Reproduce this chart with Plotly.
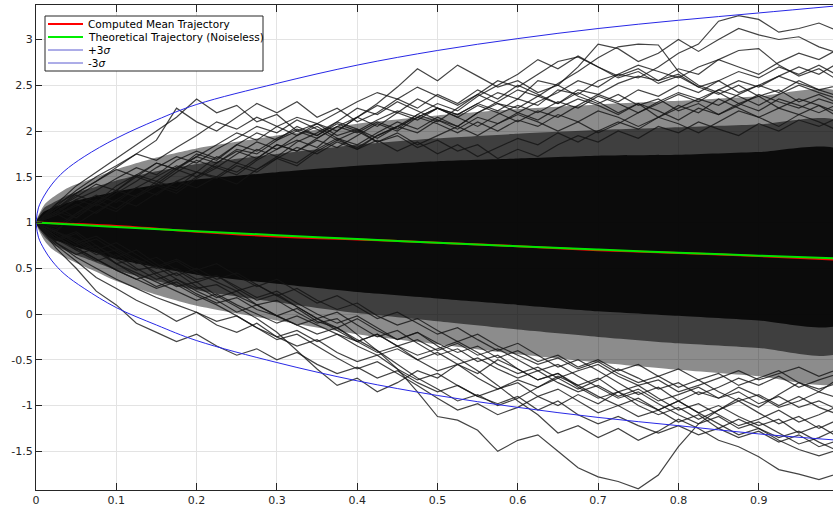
import numpy as np
import plotly.graph_objects as go

W, H = 833, 510
ML, MR, MT, MB = 36, 0, 5, 20

x_range = [0, 0.9925]
y_range = [-1.923, 3.377]
x_ticks = [0, 0.1, 0.2, 0.3, 0.4, 0.5, 0.6, 0.7, 0.8, 0.9]
x_tick_labels = ["0", "0.1", "0.2", "0.3", "0.4", "0.5", "0.6", "0.7", "0.8", "0.9"]
y_ticks = [-1.5, -1, -0.5, 0, 0.5, 1, 1.5, 2, 2.5, 3]
y_tick_labels = ["-1.5", "-1", "-0.5", "0", "0.5", "1", "1.5", "2", "2.5", "3"]

# mean / theoretical trajectories
t_curve = [0, 0.1, 0.2, 0.3, 0.4, 0.5, 0.6, 0.7, 0.8, 0.9, 1.0]
theoretical = [1.0, 0.951, 0.905, 0.861, 0.819, 0.779, 0.741, 0.705, 0.670, 0.638, 0.607]
computed_mean = [1.0, 0.962, 0.90, 0.848, 0.815, 0.78, 0.742, 0.697, 0.668, 0.634, 0.594]

# +/- 3 sigma envelopes
t_sigma = [0, 0.003, 0.01, 0.02, 0.035, 0.06, 0.1, 0.15, 0.2, 0.3, 0.4, 0.5, 0.6, 0.7, 0.8, 0.9, 1.0]
plus_3sigma = [1.0, 1.16, 1.29, 1.42, 1.56, 1.72, 1.92, 2.12, 2.29, 2.52, 2.72, 2.88, 3.01, 3.12, 3.21, 3.29, 3.37]
minus_3sigma = [1.0, 0.84, 0.71, 0.58, 0.44, 0.28, 0.07, -0.12, -0.29, -0.53, -0.73, -0.89, -1.02, -1.13, -1.22, -1.31, -1.38]

# density of the trajectory bundle: very dense core, dense and moderate zones
t_env = [0, 0.01, 0.02, 0.04, 0.07, 0.1, 0.15, 0.2, 0.3, 0.4, 0.5, 0.6, 0.7, 0.8, 0.9, 1.0]
core_upper = [1.0, 1.12, 1.16, 1.22, 1.28, 1.34, 1.41, 1.47, 1.55, 1.62, 1.67, 1.70, 1.73, 1.74, 1.77, 1.79]
core_lower = [1.0, 0.88, 0.82, 0.76, 0.68, 0.60, 0.51, 0.43, 0.33, 0.24, 0.17, 0.10, 0.03, -0.02, -0.07, -0.11]
mid_upper = [1.0, 1.16, 1.21, 1.30, 1.38, 1.46, 1.56, 1.64, 1.75, 1.85, 1.92, 1.97, 2.01, 2.04, 2.07, 2.10]
mid_lower = [1.0, 0.85, 0.77, 0.68, 0.58, 0.48, 0.36, 0.26, 0.13, 0.01, -0.08, -0.17, -0.25, -0.32, -0.37, -0.42]
outer_upper = [1.0, 1.19, 1.27, 1.38, 1.48, 1.58, 1.71, 1.81, 1.95, 2.08, 2.17, 2.24, 2.29, 2.33, 2.38, 2.42]
outer_lower = [1.0, 0.81, 0.71, 0.60, 0.48, 0.36, 0.21, 0.09, -0.07, -0.22, -0.33, -0.44, -0.53, -0.61, -0.68, -0.74]

# individual outer trajectories (sampled every 0.025)
path_u1 = [1.0, 1.15, 1.3, 1.22, 1.4, 1.52, 1.45, 1.6, 1.72, 1.65, 1.8, 1.75, 1.9, 2.0, 1.92, 2.05, 2.15, 2.05, 2.2, 2.12, 2.25, 2.18, 2.3, 2.22, 2.35, 2.28, 2.45, 2.4, 2.55, 2.62, 2.58, 2.7, 2.85, 2.95, 3.2, 3.26, 3.22, 3.08, 3.12, 3.18, 3.09]
path_u2 = [1.0, 0.9, 1.1, 1.25, 1.15, 1.3, 1.42, 1.35, 1.5, 1.62, 1.55, 1.7, 1.85, 1.78, 1.9, 1.82, 1.95, 2.08, 2.0, 2.15, 2.25, 2.18, 2.3, 2.42, 2.35, 2.55, 2.5, 2.7, 2.95, 2.9, 2.76, 2.85, 3.0, 2.87, 3.0, 3.12, 3.05, 3.0, 3.03, 2.92, 2.85]
path_u3 = [1.0, 1.12, 1.05, 1.2, 1.35, 1.28, 1.45, 1.38, 1.55, 1.5, 1.65, 1.58, 1.72, 1.65, 1.8, 1.92, 1.85, 1.98, 2.1, 2.02, 2.15, 2.05, 2.2, 2.3, 2.25, 2.38, 2.3, 2.45, 2.4, 2.52, 2.6, 2.55, 2.68, 2.62, 2.78, 2.88, 2.9, 2.72, 2.6, 2.68, 2.55]
path_u4 = [1.0, 1.2, 1.4, 1.55, 1.7, 1.85, 2.0, 2.15, 2.35, 2.2, 2.28, 2.1, 2.18, 2.0, 2.08, 1.95, 2.02, 1.88, 1.95, 1.82, 1.9, 1.78, 1.85, 1.7, 1.8, 1.72, 1.85, 1.95, 1.88, 2.0, 1.92, 2.05, 1.98, 2.1, 2.02, 1.95, 2.08, 2.0, 2.12, 2.05, 2.15]
path_u5 = [1.0, 1.15, 1.32, 1.45, 1.6, 1.75, 1.9, 2.25, 2.1, 2.0, 2.15, 2.3, 2.2, 2.32, 2.15, 2.25, 2.1, 2.2, 2.35, 2.25, 2.4, 2.3, 2.45, 2.35, 2.5, 2.4, 2.3, 2.42, 2.32, 2.2, 2.3, 2.15, 2.25, 2.35, 2.28, 2.4, 2.5, 2.42, 2.55, 2.45, 2.38]
path_u6 = [1.0, 0.92, 1.08, 1.2, 1.12, 1.28, 1.4, 1.32, 1.48, 1.6, 1.52, 1.68, 1.8, 1.9, 1.82, 2.0, 2.15, 2.3, 2.48, 2.68, 2.55, 2.72, 2.6, 2.48, 2.55, 2.42, 2.5, 2.38, 2.3, 2.4, 2.28, 2.35, 2.22, 2.3, 2.18, 2.28, 2.4, 2.32, 2.25, 2.35, 2.28]
path_u7 = [1.0, 1.1, 0.98, 1.12, 1.25, 1.18, 1.32, 1.45, 1.38, 1.5, 1.42, 1.58, 1.7, 1.62, 1.78, 1.9, 1.82, 1.95, 2.05, 2.18, 2.1, 2.25, 2.4, 2.55, 2.48, 2.62, 2.76, 2.81, 2.7, 2.6, 2.68, 2.55, 2.62, 2.48, 2.4, 2.5, 2.38, 2.45, 2.32, 2.4, 2.3]
path_u8 = [1.0, 1.08, 1.2, 1.1, 1.25, 1.38, 1.3, 1.45, 1.55, 1.48, 1.62, 1.55, 1.7, 1.82, 1.75, 1.88, 1.8, 1.95, 2.05, 1.98, 2.12, 2.05, 2.2, 2.32, 2.45, 2.38, 2.52, 2.65, 2.8, 2.92, 2.95, 2.94, 2.65, 2.5, 2.42, 2.3, 2.38, 2.25, 2.18, 2.28, 2.15]
path_u9 = [1.0, 1.18, 1.05, 1.22, 1.35, 1.5, 1.42, 1.58, 1.5, 1.65, 1.78, 1.7, 1.85, 1.78, 1.92, 2.05, 1.98, 2.1, 2.02, 2.18, 2.3, 2.22, 2.38, 2.5, 2.62, 2.78, 2.68, 2.82, 2.7, 2.58, 2.65, 2.52, 2.6, 2.48, 2.55, 2.42, 2.5, 2.6, 2.52, 2.45, 2.5]
path_u10 = [1.0, 0.95, 1.1, 1.22, 1.35, 1.28, 1.4, 1.55, 1.68, 1.6, 1.75, 1.88, 1.8, 1.95, 2.08, 2.0, 2.15, 2.28, 2.2, 2.35, 2.25, 2.15, 2.28, 2.2, 2.1, 2.22, 2.15, 2.28, 2.4, 2.32, 2.45, 2.38, 2.5, 2.42, 2.55, 2.65, 2.58, 2.7, 2.62, 2.72, 2.6]
path_u11 = [1.0, 1.15, 1.28, 1.42, 1.35, 1.52, 1.65, 1.58, 1.75, 1.68, 1.85, 1.98, 1.9, 2.05, 1.95, 2.1, 2.02, 1.92, 2.05, 2.15, 2.08, 1.98, 2.1, 2.0, 2.12, 2.05, 2.18, 2.1, 2.22, 2.15, 2.05, 2.15, 2.28, 2.2, 2.35, 2.25, 2.15, 2.25, 2.35, 2.28, 2.2]
path_u12 = [1.0, 1.1, 1.25, 1.18, 1.32, 1.45, 1.6, 1.72, 1.65, 1.8, 1.92, 2.05, 1.98, 2.12, 2.02, 1.9, 2.0, 1.88, 1.98, 1.85, 1.95, 2.05, 1.95, 2.08, 2.18, 2.1, 2.0, 2.1, 1.98, 2.08, 2.2, 2.3, 2.4, 2.32, 2.45, 2.55, 2.48, 2.6, 2.7, 2.62, 2.75]
path_u13 = [1.0, 1.18, 1.35, 1.5, 1.62, 1.75, 1.68, 1.82, 1.95, 2.1, 2.02, 2.15, 2.05, 1.95, 2.05, 1.92, 1.8, 1.9, 1.78, 1.88, 1.75, 1.85, 1.72, 1.82, 1.92, 1.85, 1.98, 1.88, 2.0, 2.1, 2.02, 2.15, 2.08, 1.98, 2.1, 2.22, 2.15, 2.05, 2.18, 2.1, 2.0]
path_u14 = [1.0, 1.12, 1.25, 1.35, 1.48, 1.6, 1.52, 1.68, 1.78, 1.7, 1.85, 1.78, 1.92, 2.02, 1.95, 2.08, 2.0, 2.12, 2.22, 2.15, 2.25, 2.15, 2.05, 2.18, 2.28, 2.2, 2.32, 2.25, 2.38, 2.3, 2.2, 2.32, 2.42, 2.35, 2.45, 2.38, 2.28, 2.4, 2.5, 2.42, 2.35]
path_u15 = [1.0, 1.08, 1.18, 1.3, 1.22, 1.38, 1.5, 1.62, 1.55, 1.72, 1.65, 1.8, 1.72, 1.88, 1.98, 2.1, 2.25, 2.18, 2.32, 2.22, 2.12, 2.02, 2.15, 2.08, 2.2, 2.12, 2.25, 2.35, 2.28, 2.18, 2.3, 2.22, 2.12, 2.25, 2.18, 2.3, 2.22, 2.35, 2.28, 2.2, 2.3]
path_u16 = [1.0, 1.2, 1.32, 1.45, 1.58, 1.5, 1.65, 1.58, 1.72, 1.85, 1.98, 1.9, 2.05, 2.15, 2.08, 2.2, 2.32, 2.42, 2.35, 2.48, 2.38, 2.28, 2.4, 2.3, 2.2, 2.32, 2.42, 2.55, 2.48, 2.62, 2.72, 2.65, 2.58, 2.7, 2.78, 2.7, 2.62, 2.75, 2.85, 2.78, 2.9]
path_l1 = [1.0, 0.85, 0.7, 0.75, 0.6, 0.48, 0.52, 0.38, 0.28, 0.32, 0.2, 0.1, 0.15, 0.02, -0.1, -0.05, -0.22, -0.4, -0.6, -0.85, -1.12, -1.16, -1.27, -1.5, -1.38, -1.32, -1.5, -1.68, -1.78, -1.83, -1.91, -1.76, -1.45, -1.2, -1.05, -0.92, -1.02, -0.88, -0.75, -0.85, -0.7]
path_l2 = [1.0, 0.9, 0.78, 0.65, 0.7, 0.58, 0.45, 0.5, 0.38, 0.42, 0.3, 0.18, 0.25, 0.12, 0.0, -0.1, -0.02, -0.15, -0.28, -0.2, -0.35, -0.48, -0.62, -0.78, -0.95, -1.1, -1.3, -1.22, -1.35, -1.25, -1.38, -1.28, -1.15, -1.25, -1.38, -1.45, -1.56, -1.7, -1.75, -1.81, -1.74]
path_l3 = [1.0, 0.72, 0.5, 0.25, 0.1, -0.1, -0.2, -0.3, -0.22, -0.35, -0.45, -0.38, -0.5, -0.42, -0.55, -0.65, -0.58, -0.7, -0.62, -0.75, -0.85, -0.78, -0.9, -0.82, -0.72, -0.8, -0.68, -0.78, -0.9, -1.0, -0.92, -1.05, -0.95, -1.08, -1.0, -1.12, -1.22, -1.15, -1.3, -1.22, -1.35]
path_l4 = [1.0, 0.8, 0.88, 0.7, 0.55, 0.6, 0.42, 0.3, 0.35, 0.2, 0.08, -0.05, -0.2, -0.4, -0.6, -0.78, -0.7, -0.85, -0.75, -0.62, -0.7, -0.55, -0.65, -0.5, -0.6, -0.72, -0.65, -0.8, -0.92, -0.85, -1.0, -1.1, -1.02, -1.15, -1.05, -0.95, -1.08, -1.2, -1.12, -1.25, -1.15]
path_l5 = [1.0, 0.82, 0.7, 0.58, 0.65, 0.5, 0.38, 0.45, 0.3, 0.18, 0.25, 0.1, -0.02, -0.12, -0.05, -0.18, -0.3, -0.42, -0.35, -0.5, -0.62, -0.55, -0.7, -0.82, -0.75, -0.9, -0.82, -0.95, -1.08, -1.0, -1.12, -1.05, -1.18, -1.1, -1.25, -1.35, -1.28, -1.4, -1.32, -1.45, -1.38]
path_l6 = [1.0, 0.88, 0.75, 0.82, 0.68, 0.55, 0.62, 0.48, 0.35, 0.42, 0.28, 0.15, 0.22, 0.08, -0.05, 0.02, -0.12, -0.25, -0.18, -0.32, -0.45, -0.38, -0.52, -0.45, -0.6, -0.72, -0.65, -0.78, -0.7, -0.85, -0.78, -0.92, -1.05, -0.98, -1.1, -1.22, -1.15, -1.05, -1.18, -1.1, -1.0]
path_l7 = [1.0, 0.75, 0.58, 0.4, 0.28, 0.15, 0.05, -0.08, 0.02, -0.12, -0.2, -0.1, -0.25, -0.35, -0.28, -0.42, -0.52, -0.45, -0.6, -0.72, -0.65, -0.78, -0.9, -0.98, -0.9, -1.05, -0.95, -1.1, -1.2, -1.12, -1.22, -1.3, -1.22, -1.32, -1.25, -1.15, -1.25, -1.35, -1.28, -1.4, -1.5]
path_l8 = [1.0, 0.9, 0.82, 0.7, 0.78, 0.65, 0.52, 0.6, 0.48, 0.55, 0.42, 0.3, 0.38, 0.25, 0.12, 0.2, 0.08, -0.05, 0.02, -0.1, -0.22, -0.15, -0.28, -0.4, -0.32, -0.45, -0.58, -0.5, -0.62, -0.75, -0.88, -0.8, -0.95, -1.08, -1.2, -1.32, -1.25, -1.38, -1.48, -1.55, -1.48]
path_l9 = [1.0, 0.85, 0.72, 0.6, 0.48, 0.38, 0.45, 0.32, 0.2, 0.1, -0.02, -0.15, -0.28, -0.22, -0.35, -0.48, -0.6, -0.52, -0.65, -0.78, -0.92, -1.05, -0.98, -1.1, -1.02, -0.9, -1.0, -0.88, -0.98, -0.85, -0.95, -1.05, -0.95, -0.85, -0.92, -0.8, -0.9, -1.02, -0.95, -0.85, -0.92]
path_l10 = [1.0, 0.9, 0.78, 0.85, 0.72, 0.6, 0.5, 0.58, 0.45, 0.35, 0.25, 0.32, 0.2, 0.08, -0.05, -0.15, -0.28, -0.4, -0.55, -0.7, -0.82, -0.95, -0.88, -1.0, -0.92, -0.8, -0.7, -0.82, -0.72, -0.6, -0.7, -0.82, -0.75, -0.88, -0.8, -0.7, -0.78, -0.68, -0.8, -0.72, -0.65]
path_l11 = [1.0, 0.82, 0.9, 0.75, 0.62, 0.7, 0.55, 0.42, 0.5, 0.38, 0.45, 0.32, 0.2, 0.28, 0.15, 0.05, 0.12, -0.02, -0.12, -0.05, -0.18, -0.3, -0.22, -0.35, -0.45, -0.55, -0.48, -0.6, -0.52, -0.65, -0.75, -0.68, -0.8, -0.72, -0.85, -0.95, -0.88, -1.0, -0.9, -1.02, -1.1]
path_l12 = [1.0, 0.78, 0.65, 0.72, 0.55, 0.42, 0.3, 0.38, 0.25, 0.15, 0.02, 0.1, -0.02, -0.12, -0.22, -0.15, -0.3, -0.22, -0.35, -0.28, -0.4, -0.32, -0.45, -0.38, -0.5, -0.62, -0.55, -0.68, -0.8, -0.92, -0.85, -0.98, -1.1, -1.2, -1.12, -1.25, -1.18, -1.3, -1.42, -1.35, -1.25]
path_l13 = [1.0, 0.85, 0.72, 0.6, 0.48, 0.38, 0.28, 0.35, 0.22, 0.12, 0.18, 0.05, -0.02, 0.06, -0.08, -0.15, -0.05, -0.18, -0.28, -0.2, -0.32, -0.42, -0.35, -0.48, -0.4, -0.52, -0.45, -0.58, -0.5, -0.62, -0.55, -0.68, -0.6, -0.72, -0.65, -0.78, -0.7, -0.62, -0.75, -0.82, -0.75]
path_l14 = [1.0, 0.9, 0.8, 0.68, 0.55, 0.45, 0.35, 0.25, 0.15, 0.22, 0.1, 0.0, -0.1, -0.02, -0.12, -0.22, -0.3, -0.22, -0.35, -0.45, -0.38, -0.3, -0.42, -0.55, -0.65, -0.58, -0.7, -0.62, -0.55, -0.68, -0.78, -0.72, -0.85, -0.78, -0.7, -0.62, -0.72, -0.65, -0.58, -0.68, -0.6]
path_l15 = [1.0, 0.78, 0.62, 0.5, 0.38, 0.28, 0.18, 0.1, 0.02, -0.08, -0.02, -0.15, -0.25, -0.18, -0.3, -0.22, -0.35, -0.45, -0.38, -0.5, -0.42, -0.55, -0.48, -0.6, -0.7, -0.62, -0.75, -0.85, -0.78, -0.9, -0.82, -0.95, -0.88, -0.8, -0.92, -0.85, -0.98, -0.9, -1.02, -0.95, -1.05]

paths = [path_u1, path_u2, path_u3, path_u4, path_u5, path_u6, path_u7, path_u8, path_u9,
         path_u10, path_u11, path_u12, path_u13, path_u14, path_u15, path_u16,
         path_l1, path_l2, path_l3, path_l4, path_l5, path_l6, path_l7, path_l8, path_l9,
         path_l10, path_l11, path_l12, path_l13, path_l14, path_l15]

legend_labels = ["Computed Mean Trajectory", "Theoretical Trajectory (Noiseless)", "+3<i>σ</i>", "-3<i>σ</i>"]
legend_colors = ["#ff0000", "#00ee00", "#5a5ad0", "#5a5ad0"]
legend_widths = [2, 2, 1, 1]

FONT = "DejaVu Sans"
AX = "#262626"

fig = go.Figure()

def band(tv, up, lo, color):
    fig.add_trace(go.Scatter(x=list(tv) + list(tv)[::-1], y=list(up) + list(lo)[::-1],
                             fill="toself", fillcolor=color, mode="lines",
                             line=dict(width=0, shape="spline", smoothing=0.6),
                             hoverinfo="skip", showlegend=False))

band(t_env, outer_upper, outer_lower, "rgba(0,0,0,0.45)")
band(t_env, mid_upper, mid_lower, "rgba(0,0,0,0.55)")
band(t_env, core_upper, core_lower, "rgba(0,0,0,0.82)")

for p in paths:
    fig.add_trace(go.Scatter(x=np.linspace(0, 1, len(p)), y=p, mode="lines",
                             line=dict(color="rgba(20,20,20,0.8)", width=1.2),
                             hoverinfo="skip", showlegend=False))

fig.add_trace(go.Scatter(x=t_curve, y=computed_mean, mode="lines",
                         line=dict(color="#ff0000", width=2, shape="spline"), showlegend=False))
fig.add_trace(go.Scatter(x=t_curve, y=theoretical, mode="lines",
                         line=dict(color="#00e600", width=2, shape="spline"), showlegend=False))
fig.add_trace(go.Scatter(x=t_sigma, y=plus_3sigma, mode="lines",
                         line=dict(color="#2828e6", width=1, shape="spline"), showlegend=False))
fig.add_trace(go.Scatter(x=t_sigma, y=minus_3sigma, mode="lines",
                         line=dict(color="#2828e6", width=1, shape="spline"), showlegend=False))

# custom MATLAB-style legend box
PW, PH = W - ML - MR, H - MT - MB
def px(x):
    return (x - ML) / PW
def py(y):
    return (H - MB - y) / PH

shapes = [dict(type="rect", xref="paper", yref="paper", x0=px(45), x1=px(263), y0=py(71), y1=py(16),
               fillcolor="white", line=dict(color=AX, width=1), layer="above")]
annotations = []
for i, (lab, col, lw) in enumerate(zip(legend_labels, legend_colors, legend_widths)):
    yy = 24 + 13 * i
    shapes.append(dict(type="line", xref="paper", yref="paper", x0=px(48), x1=px(83),
                       y0=py(yy), y1=py(yy), line=dict(color=col, width=lw), layer="above"))
    annotations.append(dict(xref="paper", yref="paper", x=px(86), y=py(yy), text=lab,
                            showarrow=False, xanchor="left", yanchor="middle",
                            font=dict(family=FONT, size=10.5, color="#000000")))

fig.update_layout(
    width=W, height=H, margin=dict(l=ML, r=MR, t=MT, b=MB, autoexpand=False),
    paper_bgcolor="white", plot_bgcolor="white",
    font=dict(family=FONT, size=11, color=AX),
    shapes=shapes, annotations=annotations, showlegend=False,
    xaxis=dict(range=x_range, tickvals=x_ticks, ticktext=x_tick_labels, automargin=False,
               showgrid=True, gridcolor="#e3e3e3", gridwidth=1, zeroline=False,
               showline=True, linecolor=AX, linewidth=1, mirror="ticks",
               ticks="inside", ticklen=7, tickcolor=AX),
    yaxis=dict(range=y_range, tickvals=y_ticks, ticktext=y_tick_labels, automargin=False,
               showgrid=True, gridcolor="#e3e3e3", gridwidth=1, zeroline=False,
               showline=True, linecolor=AX, linewidth=1,
               ticks="inside", ticklen=6, tickcolor=AX),
)

fig.write_html("out.html", config={"displayModeBar": False},
               post_script="document.body.style.margin='0';document.body.style.padding='0';")
